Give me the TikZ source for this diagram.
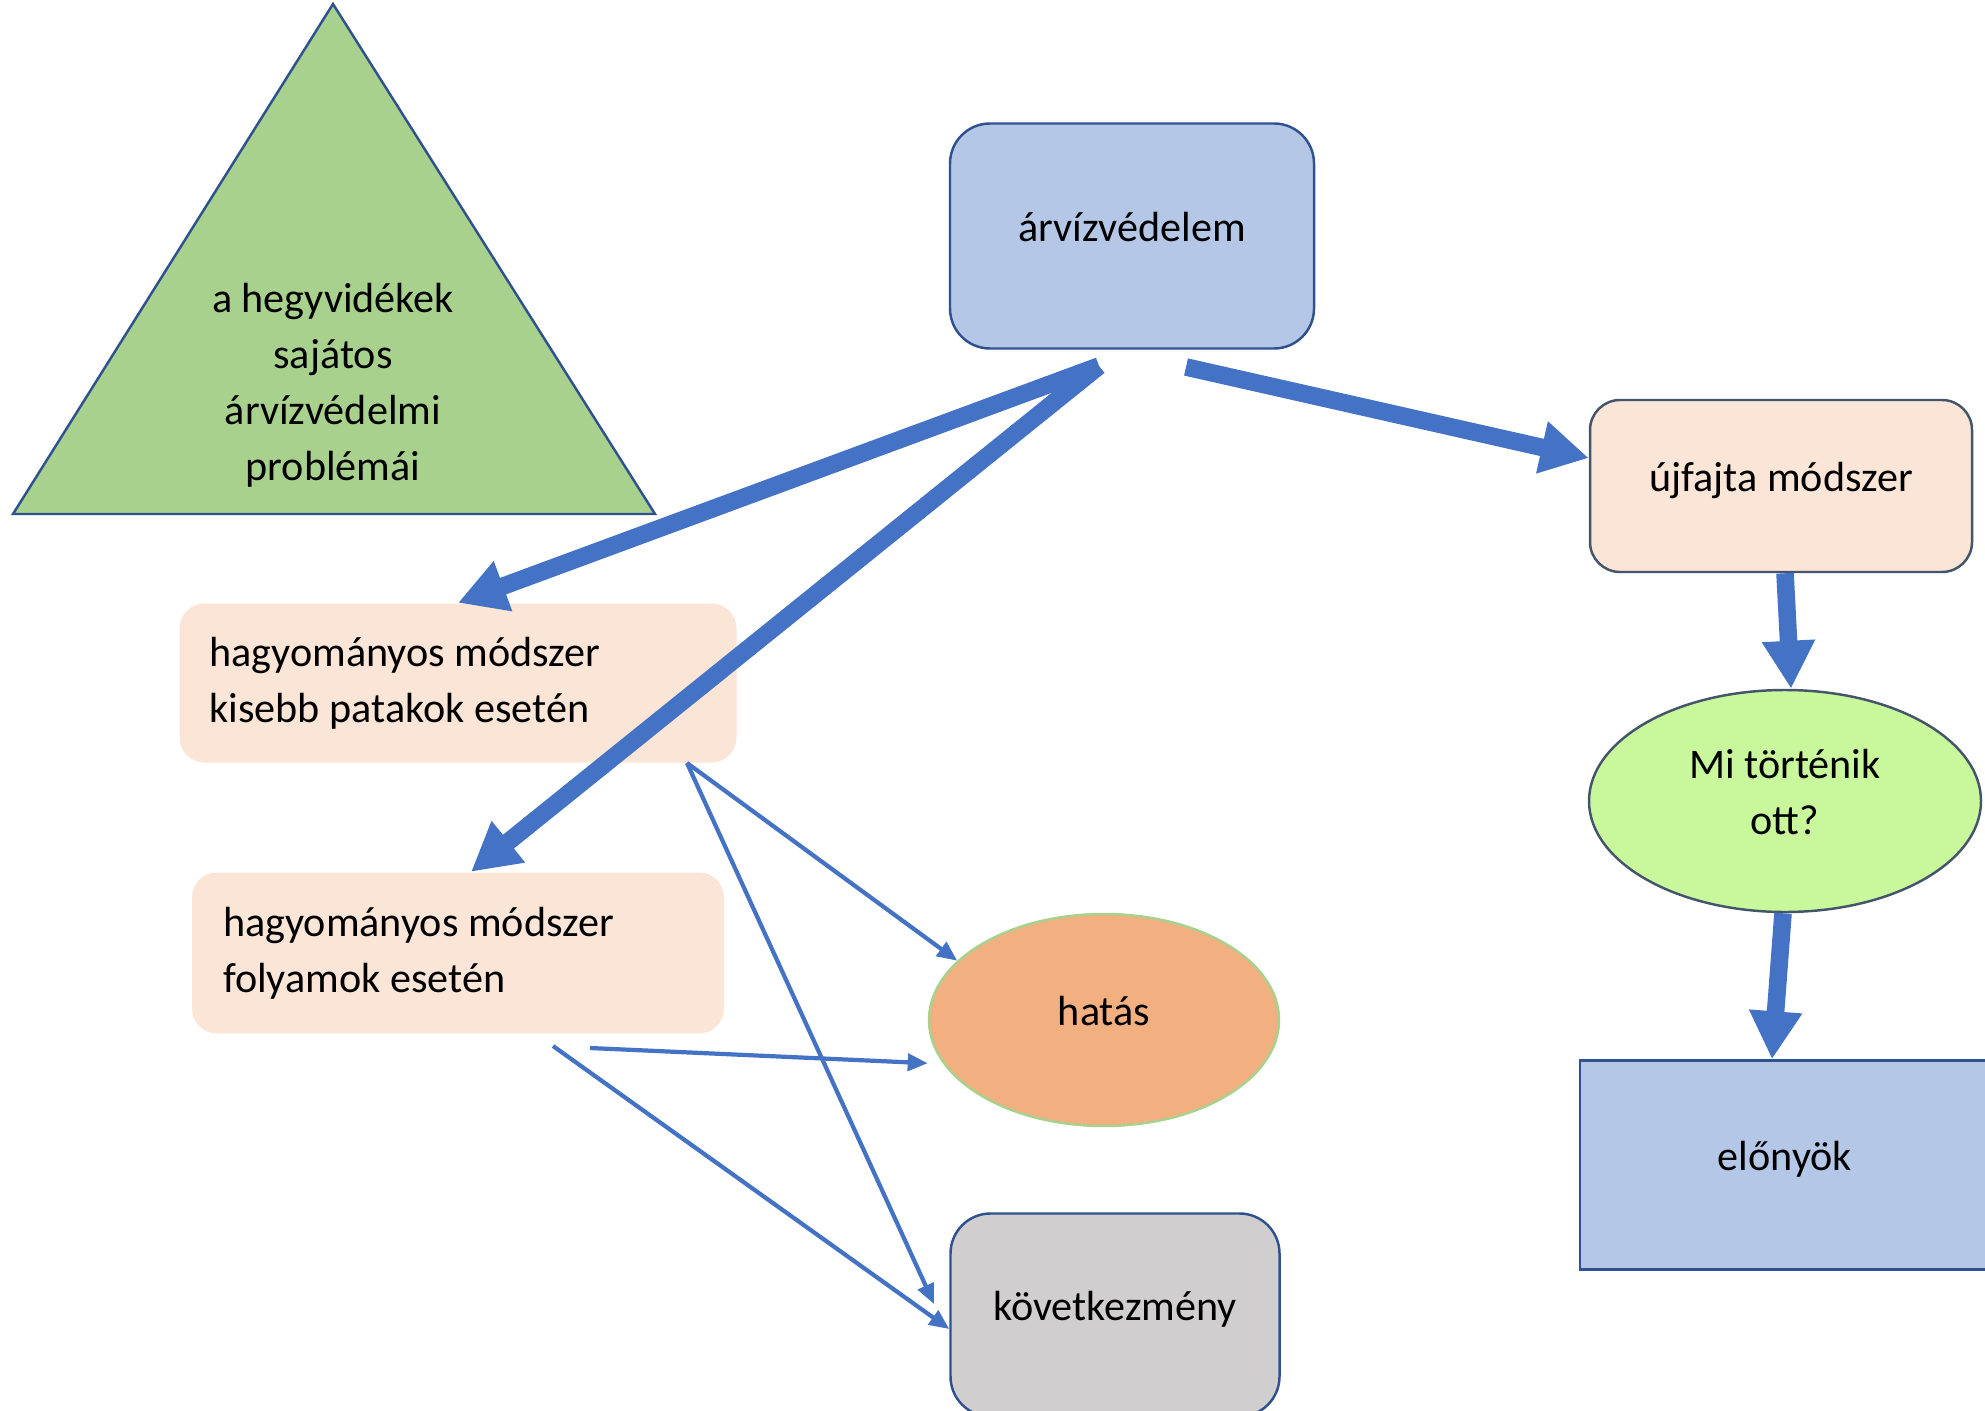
\documentclass[tikz,border=0pt]{standalone}
\usepackage{fontspec}
\setmainfont{Carlito}
\usepackage{tikz}
\usetikzlibrary{shapes.geometric, arrows.meta}
\definecolor{arrowblue}{HTML}{4472C4}
\definecolor{boxblue}{HTML}{B4C7E7}
\definecolor{borderblue}{HTML}{2F528F}
\definecolor{slateline}{HTML}{44546A}
\definecolor{peach}{HTML}{FBE5D6}
\definecolor{trigreen}{HTML}{A9D18E}
\definecolor{lightgreen}{HTML}{C9F79B}
\definecolor{hatasorange}{HTML}{F2B080}
\definecolor{kovgrey}{HTML}{D0CECE}
\tikzset{
  diagtext/.style={font=\fontsize{12}{15.9}\selectfont},
  bluebox/.style={
    rectangle, draw=borderblue, line width=0.7pt, fill=boxblue,
    align=center, text depth=1.8mm, diagtext
  },
  peachbox/.style={
    rectangle, rounded corners=2.5mm, fill=peach, inner xsep=3mm,
    align=flush left, diagtext
  },
  ovalblock/.style={
    ellipse, line width=0.7pt, align=center, text depth=1.8mm, diagtext
  },
  bigarrow/.style={
    arrowblue, line width=5pt, -{Triangle[length=4.8mm,width=5mm]}
  },
  thinarrow/.style={
    arrowblue, line width=1.2pt, -{Triangle[length=2mm,width=1.7mm]}
  }
}

\begin{document}
\begin{tikzpicture}[x=0.1mm, y=-0.1mm]
  \useasboundingbox (0,0) rectangle (1985,1411);

  % triangle
  \draw[fill=trigreen, draw=borderblue, line width=0.7pt]
    (13,514) -- (333,4) -- (655,514) -- cycle;
  \node[diagtext, align=center] (problems) at (333,385)
    {a hegyvidékek\\sajátos\\árvízvédelmi\\problémái};

  \node[bluebox, rounded corners=4mm, minimum width=36.4mm, minimum height=22.5mm] (arviz) at (1132,236) {árvízvédelem};
  \node[bluebox, fill=peach, draw=slateline, rounded corners=3mm, minimum width=38.2mm, minimum height=17.2mm] (ujfajta) at (1781,486) {újfajta módszer};
  \node[ovalblock, fill=lightgreen, draw=slateline, minimum width=39.2mm, minimum height=22.2mm] (mi) at (1785,801) {Mi történik\\ott?};
  \node[bluebox, minimum width=41mm, minimum height=20.9mm] (elony) at (1785,1165) {előnyök};

  \node[peachbox, minimum width=55.7mm, minimum height=15.9mm, text width=49.7mm] (kisebb) at (458,683) {hagyományos módszer\\kisebb patakok esetén};
  \node[peachbox, minimum width=53.2mm, minimum height=16.1mm, text width=47mm] (folyam) at (458,953) {hagyományos módszer\\folyamok esetén};

  \node[ovalblock, fill=hatasorange, draw=trigreen, minimum width=35mm, minimum height=21.2mm] (hatas) at (1104,1020) {hatás};
  \node[bluebox, fill=kovgrey, rounded corners=4mm, minimum width=32.9mm, minimum height=20.3mm] (kovetk) at (1115,1315) {következmény};

  % starting points of the connectors
  \coordinate (arvizout) at (1099,366);
  \coordinate (arvizright) at (1186,367);
  \coordinate (kisebbout) at (687,763);
  \coordinate (folyamout) at (590,1048);
  \coordinate (folyamlow) at (553,1046);
  \coordinate (kovetkin) at (934,1304);

  \draw[bigarrow] (arvizout) -- (kisebb.north);
  \draw[bigarrow] (arvizout) -- ([xshift=1.3mm]folyam.north);
  \draw[bigarrow] (arvizright) -- ([yshift=2.8mm]ujfajta.west);
  \draw[bigarrow] ([xshift=0.4mm]ujfajta.south) -- ([xshift=0.6mm]mi.north);
  \draw[bigarrow] ([xshift=-0.2mm]mi.south) -- ([xshift=-1.3mm]elony.north);

  \draw[thinarrow] (kisebbout) -- (hatas.158);
  \draw[thinarrow] (kisebbout) -- (kovetkin);
  \draw[thinarrow] (folyamout) -- ([xshift=-1.5mm]hatas.195);
  \draw[thinarrow] (folyamlow) -- ([yshift=-1.4mm]kovetk.west);
\end{tikzpicture}
\end{document}
